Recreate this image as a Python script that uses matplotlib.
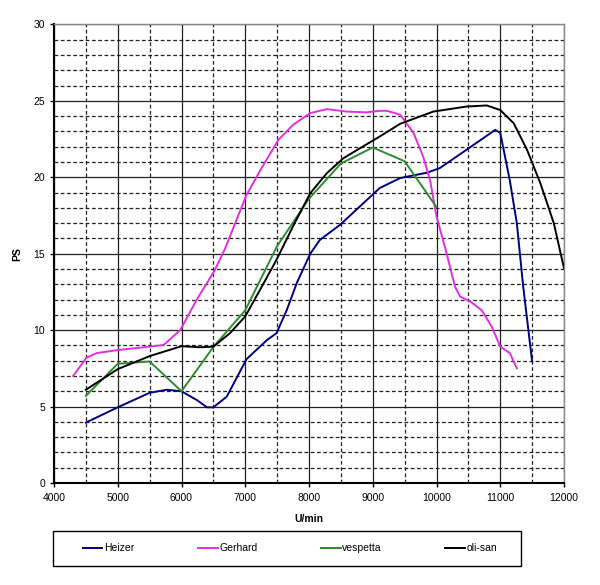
import matplotlib
matplotlib.use("Agg")
import matplotlib.pyplot as plt
from matplotlib.ticker import MultipleLocator
from matplotlib.patches import Rectangle

plt.rcParams['font.family'] = ['Liberation Sans', 'DejaVu Sans']

heizer_x = [4500, 5000, 5500, 5770, 6000, 6250, 6400, 6500, 6710, 7020, 7340, 7490, 7650, 7810,
            8020, 8170, 8490, 8800, 9110, 9430, 9850, 10050, 10530, 10920, 11000, 11150, 11260,
            11360, 11500]
heizer_y = [3.95, 4.95, 5.9, 6.1, 6.0, 5.4, 4.95, 4.95, 5.65, 8.1, 9.35, 9.8, 11.3, 13.1,
            15.0, 15.9, 16.9, 18.1, 19.3, 19.95, 20.3, 20.6, 21.97, 23.1, 22.9, 19.8, 17.0,
            12.85, 7.95]

gerhard_x = [4300, 4510, 4670, 5010, 5500, 5720, 5980, 6240, 6520, 6680, 7020, 7270, 7520, 7750,
             8020, 8280, 8590, 8900, 9110, 9220, 9430, 9640, 9790, 9900, 10000, 10160, 10290,
             10370, 10530, 10710, 10870, 11000, 11150, 11260]
gerhard_y = [7.0, 8.2, 8.5, 8.7, 8.92, 9.03, 10.0, 12.0, 13.9, 15.3, 18.85, 20.7, 22.45, 23.43,
             24.2, 24.46, 24.3, 24.25, 24.35, 24.35, 24.1, 22.9, 21.36, 19.8, 17.45, 15.0, 12.85,
             12.2, 11.87, 11.3, 10.2, 8.92, 8.5, 7.5]

vespetta_x = [4500, 5000, 5500, 6000, 6500, 7000, 7500, 8000, 8500, 9000, 9500, 10000]
vespetta_y = [5.7, 7.8, 7.95, 6.0, 8.9, 11.3, 15.5, 18.6, 20.9, 21.95, 21.05, 18.05]

olisan_x = [4500, 5000, 5500, 6000, 6290, 6500, 6760, 7000, 7260, 7490, 7750, 8020, 8280, 8540,
            8800, 9110, 9430, 9950, 10470, 10790, 11000, 11210, 11420, 11630, 11840, 12000]
olisan_y = [6.1, 7.45, 8.3, 8.95, 8.88, 8.92, 9.8, 10.9, 12.85, 14.6, 16.8, 18.96, 20.27, 21.25,
            21.9, 22.67, 23.5, 24.3, 24.63, 24.7, 24.4, 23.54, 21.8, 19.6, 17.0, 14.05]

names = ["Heizer", "Gerhard", "vespetta", "oli-san"]
colors = ["#000080", "#E030E0", "#2E8B2E", "#000000"]

fig = plt.figure(figsize=(6, 5.85), dpi=100)
ax = fig.add_axes([0.09, 0.1744, 0.85, 0.7838])

series = [(heizer_x, heizer_y), (gerhard_x, gerhard_y), (vespetta_x, vespetta_y), (olisan_x, olisan_y)]
for (xs, ys), n, c in zip(series, names, colors):
    ax.plot(xs, ys, color=c, lw=1.4, label=n, zorder=3)

ax.set_xlim(4000, 12000)
ax.set_ylim(0, 30)
ax.xaxis.set_major_locator(MultipleLocator(1000))
ax.xaxis.set_minor_locator(MultipleLocator(500))
ax.yaxis.set_major_locator(MultipleLocator(5))
ax.yaxis.set_minor_locator(MultipleLocator(1))

ax.grid(which='major', color='#222222', lw=0.9, ls='-')
ax.grid(which='minor', color='#222222', lw=0.9, ls=(0, (3, 2)))
ax.set_axisbelow(True)

ax.tick_params(which='major', direction='out', length=3, labelsize=7.5, width=1, color='black')
ax.tick_params(which='minor', length=0)
ax.tick_params(axis='x', pad=4)

for s in ['top', 'right']:
    ax.spines[s].set_color('#888888')
    ax.spines[s].set_linewidth(1.0)
for s in ['left', 'bottom']:
    ax.spines[s].set_color('black')
    ax.spines[s].set_linewidth(1.5)

ax.set_xlabel("U/min", fontsize=7.5, fontweight='bold', labelpad=8)
ax.set_ylabel("PS", fontsize=7.5, fontweight='bold', labelpad=8)

# legend frame
fig.patches.append(Rectangle((0.0883, 0.0325), 0.78, 0.06, transform=fig.transFigure,
                             fill=False, edgecolor='black', lw=1.0))

handles, labels = ax.get_legend_handles_labels()
leg = fig.legend(handles, labels, ncol=4, loc='center',
                 bbox_to_anchor=(0.0883 + 0.39 + 0.005, 0.0325 + 0.03), fontsize=7.5,
                 frameon=False, handlelength=1.9, handletextpad=0.15,
                 columnspacing=6.1, borderaxespad=0)
for line in leg.get_lines():
    line.set_linewidth(1.4)

fig.savefig("out.png", dpi=100)
